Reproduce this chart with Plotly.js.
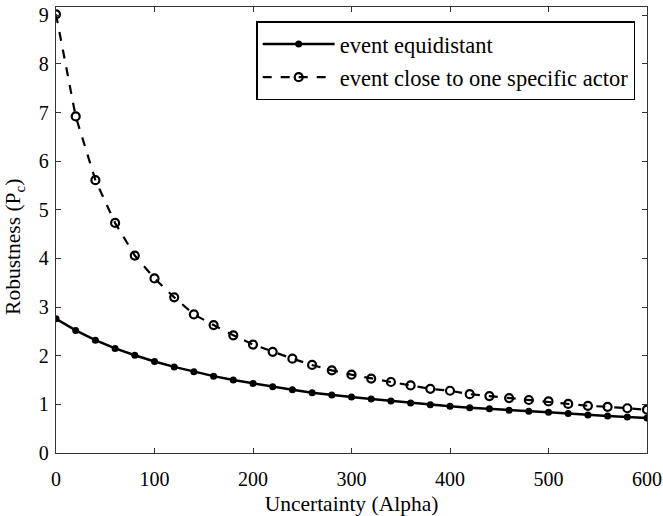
<!DOCTYPE html>
<html>
<head>
<meta charset="utf-8">
<script src="https://cdn.plot.ly/plotly-3.0.1.min.js"></script>
<style>html,body{margin:0;padding:0;background:#fff;}#chart{width:663px;height:516px;}</style>
</head>
<body>
<div id="chart"></div>
<script>
const alpha = [0,20,40,60,80,100,120,140,160,180,200,220,240,260,280,300,320,340,360,380,400,420,440,460,480,500,520,540,560,580,600];
const equidistant = [2.76,2.52,2.32,2.15,2.01,1.88,1.77,1.67,1.58,1.50,1.43,1.36,1.30,1.24,1.19,1.15,1.11,1.07,1.03,0.99,0.96,0.93,0.91,0.88,0.86,0.84,0.81,0.78,0.76,0.74,0.72];
const closeToActor = [9.02,6.92,5.61,4.73,4.06,3.59,3.20,2.85,2.63,2.42,2.23,2.08,1.94,1.81,1.70,1.61,1.53,1.46,1.39,1.32,1.28,1.21,1.17,1.13,1.09,1.06,1.01,0.97,0.95,0.92,0.89];
const seriesNames = ["event equidistant", "event close to one specific actor"];
const xTitle = "Uncertainty (Alpha)";
const yTitle = "Robustness (P<sub>c</sub>)";

const font = "Liberation Serif, Times New Roman, serif";
const traces = [
  {x: alpha, y: equidistant, name: seriesNames[0], legendgroup: "a", type: "scatter", mode: "lines+markers",
   line: {color: "#000", width: 2.5, dash: "solid"},
   marker: {symbol: "circle", size: 7, color: "#000"}},
  {x: alpha, y: closeToActor, name: seriesNames[1], legendgroup: "b", type: "scatter", mode: "lines+markers",
   line: {color: "#000", width: 2.2, dash: "dash"},
   marker: {symbol: "circle-open", size: 8, color: "#000", line: {width: 2.2, color: "#000"}}}
];
const axisCommon = {
  showgrid: false, zeroline: false, showline: true, mirror: "ticks",
  linecolor: "#333", linewidth: 1.2, ticks: "inside", ticklen: 5, tickcolor: "#333",
  tickfont: {family: font, size: 20, color: "#000"}
};
const layout = {
  width: 663, height: 516,
  margin: {l: 56, r: 16, t: 7, b: 63},
  paper_bgcolor: "#fff", plot_bgcolor: "#fff",
  font: {family: font, color: "#000"},
  showlegend: true,
  legend: {x: 0.98, xanchor: "right", y: 0.968, yanchor: "top",
    bgcolor: "#fff", bordercolor: "#000", borderwidth: 1.5,
    font: {family: font, size: 22.5, color: "#000"}, itemwidth: 72,
    traceorder: "grouped", tracegroupgap: 1},
  xaxis: Object.assign({}, axisCommon, {range: [0, 600], dtick: 100, tick0: 0, ticklabelstandoff: 8,
    title: {text: xTitle, font: {family: font, size: 21.5, color: "#000"}, standoff: 10}}),
  yaxis: Object.assign({}, axisCommon, {range: [0, 9.17], dtick: 1, tick0: 0, ticklabelstandoff: 2}),
  annotations: [{text: yTitle, xref: "paper", yref: "paper", x: 0, xshift: -41, y: 0.462,
    xanchor: "center", yanchor: "middle", textangle: -90, showarrow: false,
    font: {family: font, size: 21.5, color: "#000"}}]
};
Plotly.newPlot("chart", traces, layout, {displayModeBar: false, staticPlot: true});
</script>
</body>
</html>
